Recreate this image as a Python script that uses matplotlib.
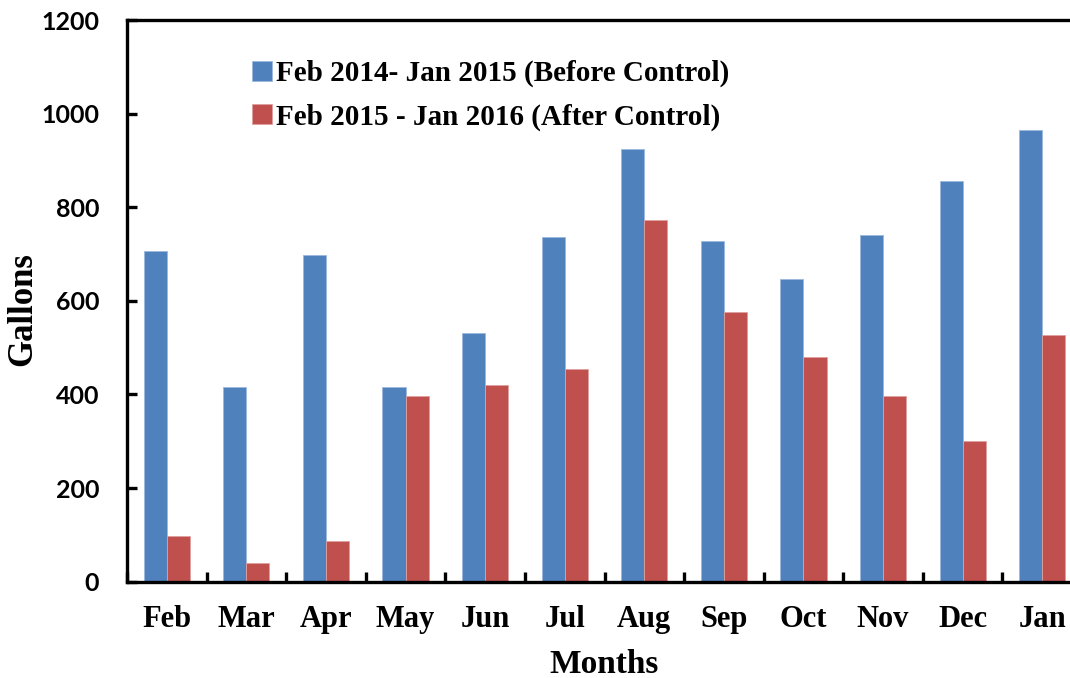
import numpy as np
import matplotlib
matplotlib.use("Agg")
import matplotlib.pyplot as plt

months = ["Feb", "Mar", "Apr", "May", "Jun", "Jul", "Aug", "Sep", "Oct", "Nov", "Dec", "Jan"]
before = [707, 415, 697, 415, 531, 736, 924, 727, 646, 741, 856, 964]
after = [98, 40, 88, 397, 421, 455, 772, 576, 479, 397, 300, 528]
label_before = "Feb 2014- Jan 2015 (Before Control)"
label_after = "Feb 2015 - Jan 2016 (After Control)"

serif = "Liberation Serif"
sans = "Lato"

fig = plt.figure(figsize=(10.7, 6.78), dpi=100)
ax = fig.add_axes([127/1070, 1 - 581.7/678, 955/1070, 561.7/678])

x = np.arange(len(months))
w = 0.29
ax.bar(x - w/2, before, w, color="#4F81BD", edgecolor="#9DB9DF", linewidth=0.6, label=label_before)
ax.bar(x + w/2, after, w, color="#C0504D", edgecolor="#E0A09E", linewidth=0.6, label=label_after)

ax.set_xlim(-0.5, 11.5)
ax.set_ylim(0, 1200)
ax.set_yticks(np.arange(0, 1201, 200))
ax.set_xticks(x)
ax.set_xticklabels(months, fontfamily=serif, fontweight="bold", fontsize=22)
ax.set_xticks(np.arange(-0.5, 12, 1), minor=True)

for lbl in ax.get_yticklabels():
    lbl.set_fontfamily(sans)
    lbl.set_fontweight("bold")
    lbl.set_fontsize(18)

ax.tick_params(axis="y", direction="in", length=7, width=2.4, pad=20)
ax.tick_params(axis="x", which="major", length=0, pad=17)
ax.tick_params(axis="x", which="minor", direction="in", length=7, width=2.4)

for sp in ax.spines.values():
    sp.set_linewidth(2.4)

ax.set_xlabel("Months", fontfamily=serif, fontweight="bold", fontsize=24)
ax.xaxis.set_label_coords(0.5, -0.12)
ax.set_ylabel("Gallons", fontfamily=serif, fontweight="bold", fontsize=25)
ax.yaxis.set_label_coords(-0.092, 0.485)

ax.legend(loc="upper left", bbox_to_anchor=(0.131, 0.929), frameon=False,
          prop={"family": serif, "weight": "bold", "size": 21},
          handlelength=0.68, handleheight=0.68, handletextpad=0.15,
          labelspacing=0.55, borderpad=0, borderaxespad=0)

fig.savefig("out.png", dpi=100)
